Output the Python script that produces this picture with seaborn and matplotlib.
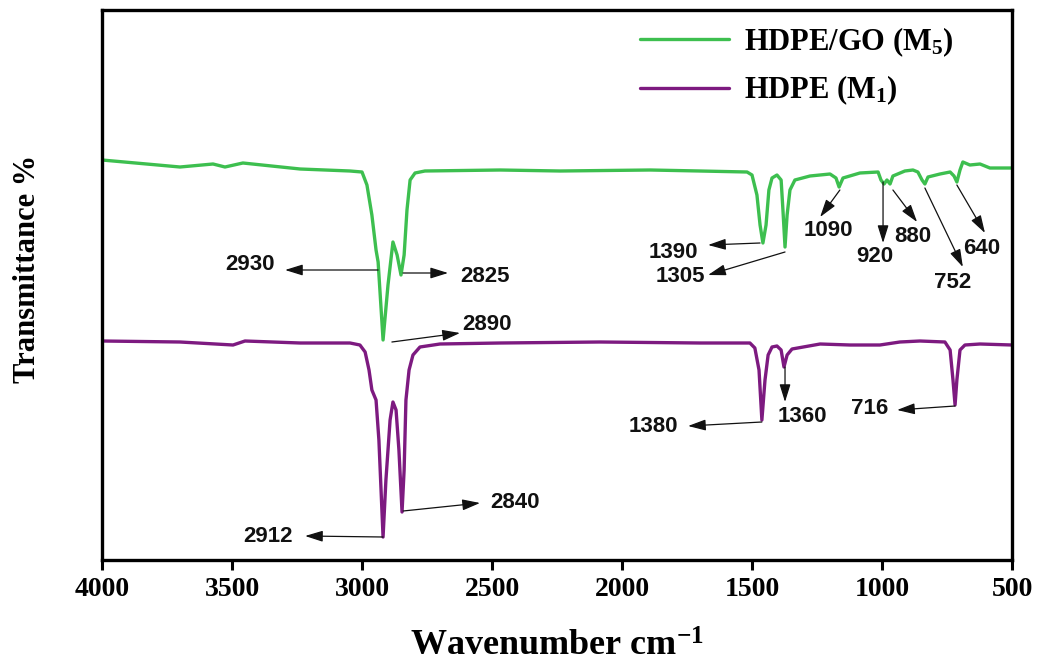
import numpy as np
import pandas as pd
import matplotlib
matplotlib.use("Agg")
import matplotlib.pyplot as plt
import seaborn as sns

# ---------------- data ----------------
series_names = ["HDPE/GO (M$_5$)", "HDPE (M$_1$)"]
series_colors = ["#3dbf4f", "#7d1a80"]

wn_go = [4000, 3700, 3573, 3527, 3458, 3238, 3046, 3000, 2981, 2962, 2946, 2938,
         2919, 2900, 2881, 2865, 2850, 2838, 2827, 2815, 2796, 2758, 2469, 2238,
         1892, 1700, 1519, 1500, 1481, 1469, 1458, 1446, 1435, 1423, 1404, 1388,
         1381, 1373, 1365, 1354, 1335, 1277, 1200, 1177, 1165, 1150, 1085, 1015,
         1004, 992, 981, 969, 958, 912, 881, 862, 846, 835, 823, 777, 738, 723,
         712, 700, 689, 662, 623, 585, 500]
t_go = [80.0, 78.6, 79.2, 78.6, 79.4, 78.2, 77.8, 77.6, 75.0, 69.0, 62.0, 59.6,
        44.0, 55.0, 63.6, 61.0, 57.0, 61.0, 70.0, 76.0, 77.4, 77.8, 78.0, 77.8,
        78.0, 77.8, 77.6, 77.0, 73.0, 67.0, 63.4, 67.0, 74.0, 76.4, 77.0, 76.0,
        70.0, 62.6, 69.0, 74.0, 76.0, 76.8, 77.2, 76.4, 74.6, 76.4, 77.4, 77.6,
        76.0, 75.2, 76.0, 75.2, 76.8, 77.8, 78.0, 77.6, 76.0, 75.2, 76.6, 77.2,
        77.6, 76.8, 75.6, 78.0, 79.6, 79.0, 79.2, 78.4, 78.4]

wn_pe = [4000, 3700, 3496, 3450, 3238, 3046, 3008, 2988, 2973, 2962, 2946, 2935,
         2919, 2908, 2892, 2881, 2869, 2858, 2846, 2838, 2831, 2819, 2804, 2777,
         2700, 2469, 2085, 1700, 1508, 1489, 1473, 1462, 1450, 1438, 1423, 1404,
         1388, 1377, 1365, 1346, 1238, 1123, 1008, 931, 854, 758, 738, 727, 719,
         712, 700, 681, 623, 500]
t_pe = [43.8, 43.6, 43.0, 43.8, 43.4, 43.4, 43.0, 41.6, 38.0, 34.0, 32.0, 24.0,
        4.6, 16.0, 28.0, 31.6, 30.0, 22.0, 9.6, 18.0, 32.0, 38.0, 41.0, 42.6,
        43.2, 43.4, 43.6, 43.4, 43.4, 42.4, 38.0, 28.0, 36.0, 41.0, 42.6, 42.8,
        42.0, 38.6, 41.0, 42.2, 43.2, 43.0, 43.0, 43.6, 43.8, 43.6, 42.0, 36.0,
        31.0, 36.0, 42.0, 43.0, 43.2, 43.0]

# peak annotations: label, arrow tail (on curve), arrow head, label position
ann_labels = ["2930", "2825", "2890", "2912", "2840", "1390", "1305", "1090",
              "920", "880", "752", "640", "1380", "1360", "716"]
ann_tail = [(2938, 58.0), (2842, 57.4), (2885, 43.6), (2919, 4.6), (2842, 9.8),
            (1469, 63.4), (1373, 61.6), (1162, 74.0), (996, 75.6), (958, 74.0),
            (835, 74.4), (712, 75.0), (1462, 27.6), (1373, 38.6), (719, 30.8)]
ann_head = [(3296, 58.0), (2669, 57.4), (2623, 45.4), (3219, 4.8), (2546, 11.4),
            (1669, 63.0), (1669, 57.0), (1238, 68.6), (996, 63.4), (865, 67.6),
            (689, 58.6), (604, 65.4), (1746, 26.8), (1373, 31.6), (942, 30.0)]
ann_text = [(3431, 59.0), (2527, 56.6), (2519, 47.0), (3362, 4.6), (2412, 11.4),
            (1804, 61.6), (1777, 56.6), (1208, 66.0), (1027, 60.6), (881, 64.6),
            (727, 55.4), (616, 62.4), (1881, 26.8), (1308, 28.6), (1046, 30.4)]

xticks = [4000, 3500, 3000, 2500, 2000, 1500, 1000, 500]

# ---------------- build frame ----------------
df = pd.concat([
    pd.DataFrame({"wn": wn_go, "T": t_go, "sample": series_names[0]}),
    pd.DataFrame({"wn": wn_pe, "T": t_pe, "sample": series_names[1]}),
], ignore_index=True)

sns.set_theme(style="white")
plt.rcParams["font.family"] = ["Liberation Serif", "DejaVu Serif"]
plt.rcParams["font.weight"] = "bold"
plt.rcParams["text.color"] = "black"
plt.rcParams["axes.labelcolor"] = "black"
plt.rcParams["xtick.color"] = "black"
plt.rcParams["mathtext.fontset"] = "custom"
plt.rcParams["mathtext.default"] = "regular"
plt.rcParams["mathtext.rm"] = "Liberation Serif:bold"
plt.rcParams["mathtext.it"] = "Liberation Serif:bold"

fig = plt.figure(figsize=(10.38, 6.62), dpi=100)
ax = fig.add_axes([102 / 1038, 1 - 560 / 662, 910 / 1038, 550 / 662])

sns.lineplot(data=df, x="wn", y="T", hue="sample", hue_order=series_names,
             palette=dict(zip(series_names, series_colors)), estimator=None,
             linewidth=2.4, ax=ax, legend=True)

ax.set_xlim(4000, 500)
ax.set_ylim(0, 110)
ax.set_xticks(xticks)
ax.set_xticklabels([str(v) for v in xticks], fontsize=20, fontweight="bold",
                   color="black")
ax.set_yticks([])
ax.tick_params(axis="x", direction="out", length=7, width=2.2, pad=5,
               colors="black", bottom=True)
for s in ax.spines.values():
    s.set_linewidth(2.4)
    s.set_color("black")

ax.set_xlabel("Wavenumber cm$^{-1}$", fontsize=26, fontweight="bold",
              color="black")
ax.xaxis.set_label_coords(0.5, -0.128)
ax.set_ylabel("")
fig.text(28 / 1038, 1 - 269 / 662, "Transmittance %", rotation=90,
         ha="center", va="center", fontsize=22, fontweight="bold",
         color="black")

leg = ax.legend(loc="upper left", bbox_to_anchor=(640 / 1038, 1 - 25 / 662),
                bbox_transform=fig.transFigure, frameon=False, fontsize=22,
                handlelength=2.9, handletextpad=0.5, labelspacing=0.5,
                borderpad=0, borderaxespad=0)
for t in leg.get_texts():
    t.set_fontweight("bold")
    t.set_color("black")
for h in leg.get_lines():
    h.set_linewidth(2.4)

for lab, tail, head, tp in zip(ann_labels, ann_tail, ann_head, ann_text):
    ax.annotate("", xy=head, xytext=tail,
                arrowprops=dict(arrowstyle="-|>,head_length=0.9,head_width=0.28",
                                color="#111111", lw=0.9, shrinkA=0, shrinkB=0))
    ax.text(tp[0], tp[1], lab, ha="center", va="center", fontsize=16,
            fontweight="bold", family=["Liberation Sans", "DejaVu Sans"],
            color="#111111")

fig.savefig("out.png", dpi=100)
